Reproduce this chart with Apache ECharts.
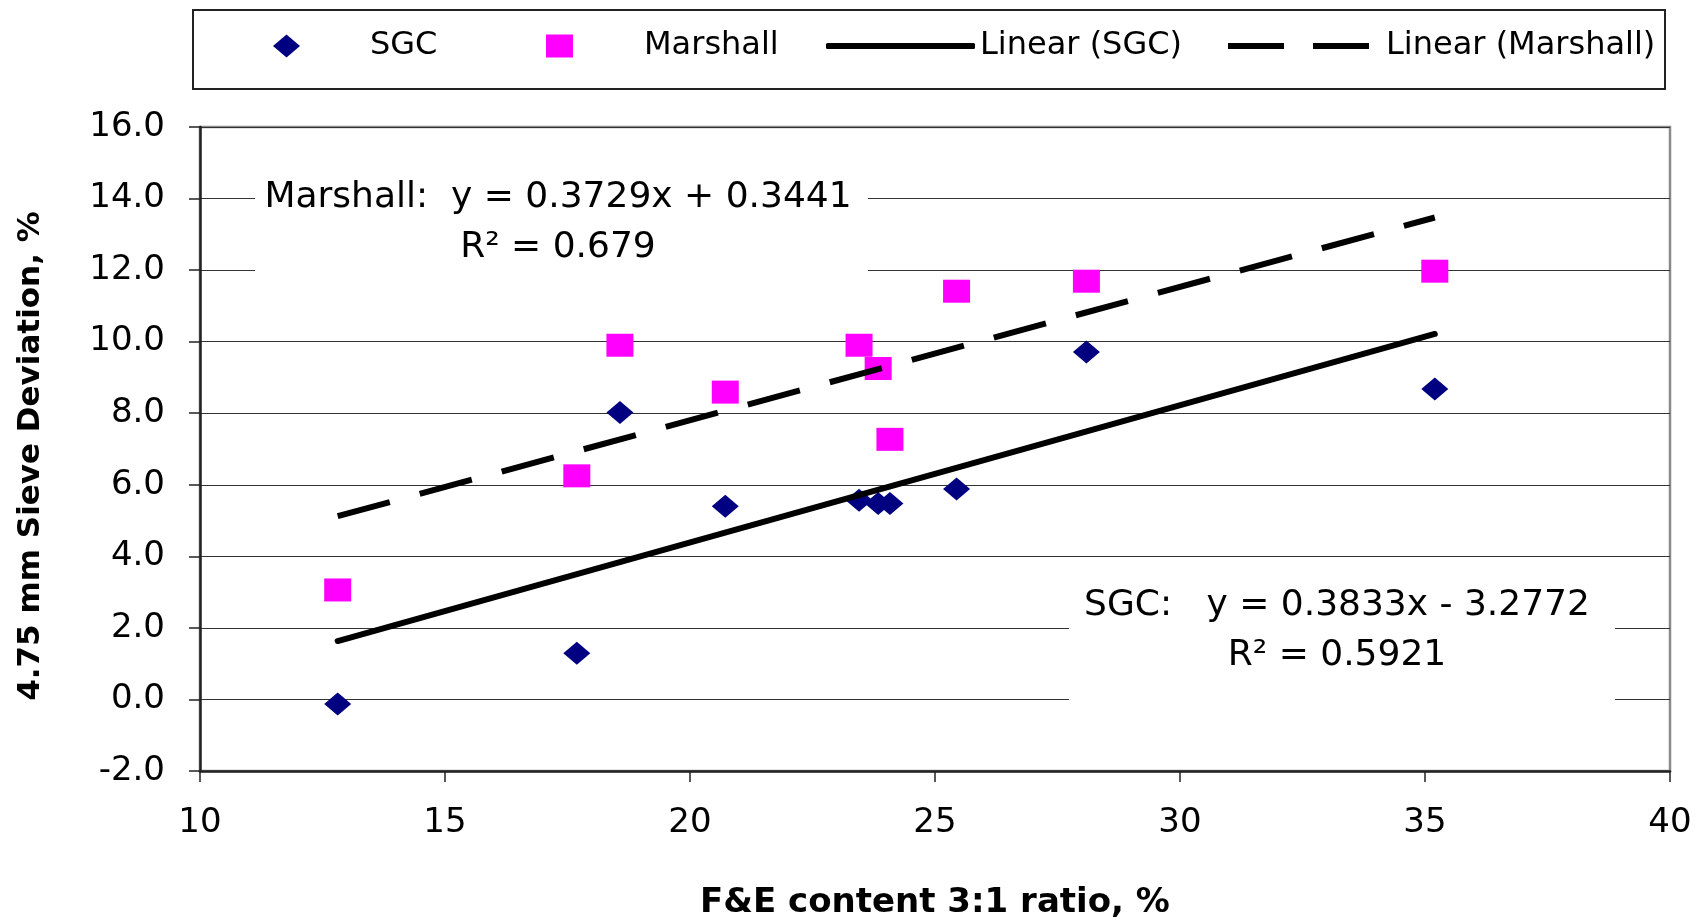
<!DOCTYPE html>
<html><head><meta charset="utf-8">
<script src="https://cdn.jsdelivr.net/npm/echarts@6/dist/echarts.min.js"></script>
<style>html,body{margin:0;padding:0;background:#fff}#c{width:1708px;height:920px}</style>
</head><body><div id="c"></div>
<script>
// ---- data ----
const fcContent = [12.81, 17.69, 18.57, 20.72, 23.45, 23.84, 24.08, 25.44, 28.09, 35.20];
const sgcDev = [-0.13, 1.29, 8.02, 5.40, 5.57, 5.48, 5.48, 5.88, 9.71, 8.68];
const marshallDev = [3.06, 6.25, 9.90, 8.59, 9.90, 9.25, 7.27, 11.41, 11.69, 11.97];
// trendline coefficients as printed on the chart [slope, intercept]
const sgcTrend = [0.3833, -3.2772];
const sgcR2 = '0.5921';
const marshallTrend = [0.3729, 0.3441];
const marshallR2 = '0.679';
const seriesNames = ['SGC', 'Marshall', 'Linear (SGC)', 'Linear (Marshall)'];
const xRange = [10, 40, 5];
const yRange = [-2, 16, 2];
const xTitle = 'F&E content 3:1 ratio, %';
const yTitle = '4.75 mm Sieve Deviation, %';

const FONT = '"DejaVu Sans", Verdana, sans-serif';

const pts = (ys) => fcContent.map((x, i) => [x, ys[i]]);
const span = [Math.min(...fcContent), Math.max(...fcContent)];
const trend = (t) => span.map(x => [x, t[0] * x + t[1]]);
const fmt = (t) => t[0].toFixed(4) + 'x ' + (t[1] < 0 ? '- ' : '+ ') + Math.abs(t[1]).toFixed(4);

const chart = echarts.init(document.getElementById('c'), null, {renderer: 'canvas'});
const legendBase = (name, left, w, h, icon, color, padLeft) => ({
  data: [{name: name, icon: icon}], left: left, top: 30, padding: 0, selectedMode: false,
  itemWidth: w, itemHeight: h, symbolKeepAspect: false,
  itemStyle: {color: color, borderWidth: 0},
  textStyle: {fontFamily: FONT, fontSize: 32, color: '#000', padding: [0, 0, 0, padLeft]}
});
chart.setOption({
  animation: false,
  backgroundColor: '#fff',
  grid: {left: 200, right: 38, top: 127, bottom: 149, show: true,
         outerBoundsMode: 'none', containLabel: false,
         borderColor: '#8a8a8a', borderWidth: 2.5, backgroundColor: 'transparent'},
  xAxis: {
    type: 'value', min: xRange[0], max: xRange[1], interval: xRange[2],
    axisLine: {show: true, onZero: false, lineStyle: {color: '#222', width: 2.5}},
    axisTick: {show: true, length: 11, lineStyle: {color: '#222', width: 1.5}},
    axisLabel: {fontFamily: FONT, fontSize: 34, color: '#000', margin: 35},
    splitLine: {show: false},
    name: xTitle, nameLocation: 'middle', nameGap: 115,
    nameTextStyle: {fontFamily: FONT, fontWeight: 'bold', fontSize: 34, color: '#000'}
  },
  yAxis: {
    type: 'value', min: yRange[0], max: yRange[1], interval: yRange[2],
    axisLine: {show: true, lineStyle: {color: '#222', width: 2.5}},
    axisTick: {show: true, length: 11, lineStyle: {color: '#222', width: 1.5}},
    axisLabel: {fontFamily: FONT, fontSize: 34, color: '#000', margin: 35,
                formatter: v => v.toFixed(1)},
    splitLine: {show: true, lineStyle: {color: '#333', width: 1.2}},
    name: yTitle, nameLocation: 'middle', nameGap: 154,
    nameTextStyle: {fontFamily: FONT, fontWeight: 'bold', fontSize: 31, color: '#000',
                    padding: [0, 14, 0, 0]}
  },
  legend: [
    legendBase(seriesNames[0], 273, 27, 23, 'diamond', '#000080', 65),
    legendBase(seriesNames[1], 546, 27, 23, 'rect', '#FF00FF', 66),
    legendBase(seriesNames[2], 826, 149, 6, 'roundRect', '#000', 0),
    legendBase(seriesNames[3], 1228, 141, 6, 'path://M0,0H56V6H0ZM85,0H141V6H85Z', '#000', 12)
  ],
  graphic: [
    {type: 'rect', shape: {x: 193, y: 10, width: 1472, height: 79}, z: 1,
     style: {fill: '#fff', stroke: '#222', lineWidth: 2}},
    {type: 'rect', shape: {x: 255, y: 160, width: 613, height: 128}, z: 1,
     style: {fill: '#fff'}},
    {type: 'text', x: 558, y: 223, z: 1,
     style: {text: 'Marshall:  y = ' + fmt(marshallTrend) + '\nR\u00B2 = ' + marshallR2,
             fill: '#000', fontFamily: FONT, fontSize: 36, lineHeight: 50,
             align: 'center', verticalAlign: 'middle', textAlign: 'center', textVerticalAlign: 'middle'}},
    {type: 'rect', shape: {x: 1069, y: 572, width: 546, height: 144}, z: 1,
     style: {fill: '#fff'}},
    {type: 'text', x: 1337, y: 631, z: 1,
     style: {text: 'SGC:   y = ' + fmt(sgcTrend) + '\nR\u00B2 = ' + sgcR2,
             fill: '#000', fontFamily: FONT, fontSize: 36, lineHeight: 50,
             align: 'center', verticalAlign: 'middle', textAlign: 'center', textVerticalAlign: 'middle'}}
  ],
  series: [
    {name: seriesNames[0], type: 'scatter', data: pts(sgcDev), symbol: 'diamond',
     symbolSize: [27, 23], itemStyle: {color: '#000080', opacity: 1}},
    {name: seriesNames[1], type: 'scatter', data: pts(marshallDev), symbol: 'rect',
     symbolSize: [27, 23], itemStyle: {color: '#FF00FF', opacity: 1}},
    {name: seriesNames[2], type: 'line', data: trend(sgcTrend), symbol: 'none',
     lineStyle: {color: '#000', width: 6, cap: 'round'}, itemStyle: {color: '#000'}},
    {name: seriesNames[3], type: 'line', data: trend(marshallTrend), symbol: 'none',
     lineStyle: {color: '#000', width: 6, type: [54, 31]}, itemStyle: {color: '#000'}}
  ]
});
</script></body></html>
